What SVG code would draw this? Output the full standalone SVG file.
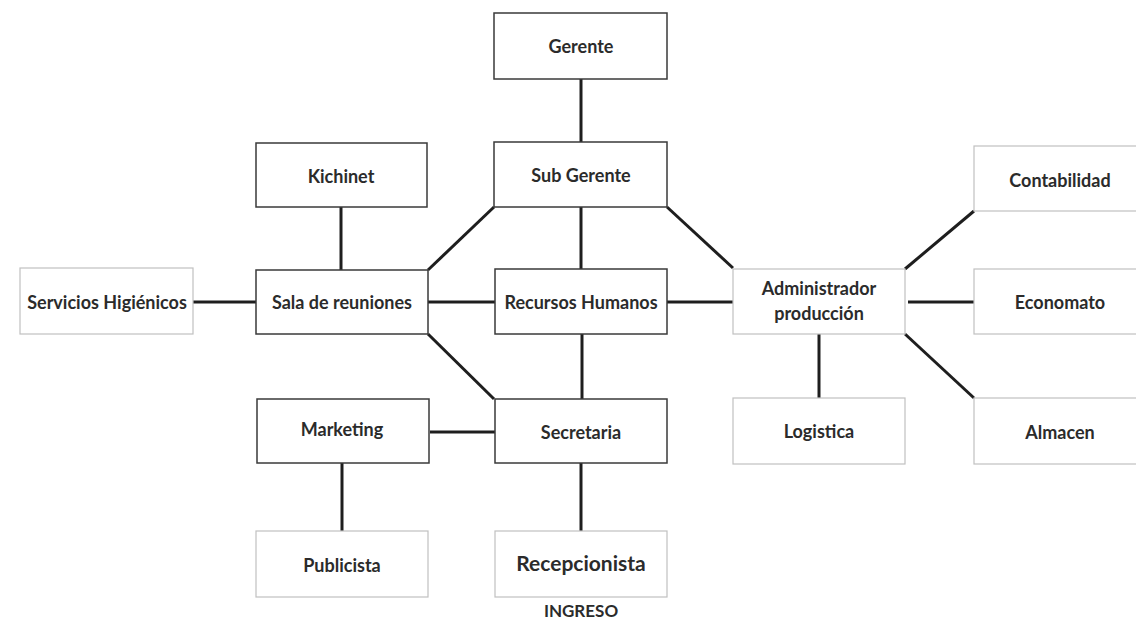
<svg xmlns="http://www.w3.org/2000/svg" width="1136" height="627" viewBox="0 0 1136 627">
<style>
.d{fill:#fff;stroke:#3a3a3a;stroke-width:1.5}
.l{fill:#fff;stroke:#c0c0c0;stroke-width:1.2}
text{font-family:Lato,"Liberation Sans",sans-serif;font-weight:bold;font-size:18px;fill:#2b2b2b;text-anchor:middle;dominant-baseline:central}
#conn line{stroke:#1e1e1e;stroke-width:3;stroke-linecap:butt}
</style>
<rect width="1136" height="627" fill="#fff"/>
<g id="conn">
<line x1="581" y1="79" x2="581" y2="142"/>
<line x1="581" y1="207" x2="581" y2="269"/>
<line x1="582" y1="334" x2="582" y2="399"/>
<line x1="581" y1="463" x2="581" y2="531"/>
<line x1="341" y1="207" x2="341" y2="270"/>
<line x1="193" y1="302" x2="256" y2="302"/>
<line x1="428" y1="302" x2="495" y2="302"/>
<line x1="667" y1="302" x2="733" y2="302"/>
<line x1="428" y1="270" x2="494" y2="207"/>
<line x1="428" y1="334" x2="494" y2="399"/>
<line x1="667" y1="207" x2="733" y2="268"/>
<line x1="430" y1="432" x2="495" y2="432"/>
<line x1="342" y1="463" x2="342" y2="531"/>
<line x1="905" y1="269" x2="974" y2="211"/>
<line x1="908" y1="302" x2="974" y2="302"/>
<line x1="905" y1="334" x2="974" y2="398"/>
<line x1="819" y1="334" x2="819" y2="398"/>
</g>
<g id="gerente"><rect class="d" x="494" y="13" width="173" height="66"/><text x="581" y="46">Gerente</text></g>
<g id="subgerente"><rect class="d" x="494" y="142" width="173" height="65"/><text x="581" y="175">Sub Gerente</text></g>
<g id="kichinet"><rect class="d" x="256" y="143" width="171" height="64"/><text x="341" y="176">Kichinet</text></g>
<g id="sala"><rect class="d" x="256" y="270" width="172" height="64"/><text x="342" y="302">Sala de reuniones</text></g>
<g id="servicios"><rect class="l" x="20" y="268" width="173" height="66"/><text x="107" y="302">Servicios Higiénicos</text></g>
<g id="recursos"><rect class="d" x="495" y="269" width="172" height="65"/><text x="581" y="302">Recursos Humanos</text></g>
<g id="secretaria"><rect class="d" x="495" y="399" width="172" height="64"/><text x="581" y="432">Secretaria</text></g>
<g id="marketing"><rect class="d" x="257" y="399" width="172" height="64"/><text x="342" y="429">Marketing</text></g>
<g id="publicista"><rect class="l" x="256" y="531" width="172" height="66"/><text x="342" y="565">Publicista</text></g>
<g id="recepcionista"><rect class="l" x="495" y="531" width="172" height="66"/><text x="581" y="562" style="font-size:21px">Recepcionista</text></g>
<text x="581" y="610" style="font-size:17px">INGRESO</text>
<g id="admin"><rect class="l" x="733" y="269" width="172" height="65"/><text x="819" y="288">Administrador</text><text x="819" y="313">producción</text></g>
<g id="logistica"><rect class="l" x="733" y="398" width="172" height="66"/><text x="819" y="431">Logistica</text></g>
<g id="contabilidad"><rect class="l" x="974" y="146" width="180" height="65"/><text x="1060" y="180">Contabilidad</text></g>
<g id="economato"><rect class="l" x="974" y="269" width="180" height="65"/><text x="1060" y="302">Economato</text></g>
<g id="almacen"><rect class="l" x="974" y="398" width="180" height="66"/><text x="1060" y="432">Almacen</text></g>
</svg>
